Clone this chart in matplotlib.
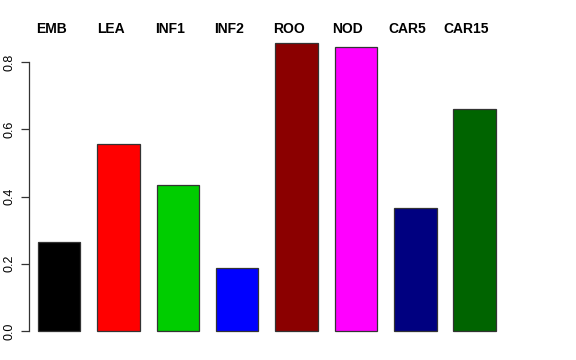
import matplotlib
matplotlib.use('Agg')
import matplotlib.pyplot as plt
import numpy as np

# tissue names and values
tissues = ['EMB', 'LEA', 'INF1', 'INF2', 'ROO', 'NOD', 'CAR5', 'CAR15']
values = [0.265, 0.556, 0.434, 0.187, 0.857, 0.845, 0.366, 0.660]
colors = ['#000000', '#FF0000', '#00CD00', '#0000FF',
          '#8B0000', '#FF00FF', '#000080', '#006400']
yticks = [0.0, 0.2, 0.4, 0.6, 0.8]

W, H = 576, 360
fig = plt.figure(figsize=(W / 100, H / 100), dpi=100)
# axes placed in pixels like the R plot region
left_px, right_px, bot_px, top_px = 29, 533, 331, 62
ax = fig.add_axes([left_px / W, (H - bot_px) / H,
                   (right_px - left_px) / W, (bot_px - top_px) / H])

# R barplot geometry: width 1, space 0.4
x = 0.4 + 1.4 * np.arange(len(tissues)) + 0.5
ax.bar(x, values, width=1.0, color=colors, edgecolor='#333333',
       linewidth=0.9, clip_on=False)

unit = 42.4
ax.set_xlim((left_px - 21) / unit, (right_px - 21) / unit)
ax.set_ylim(0, 0.8)

for xi, name in zip(x, tissues):
    ax.text(xi - 0.19, 0.8 + (62 - 29) / 336.25, name, ha='center',
            va='center', fontsize=10, fontweight='bold',
            family='Liberation Sans', clip_on=False)

for s in ['top', 'right', 'bottom']:
    ax.spines[s].set_visible(False)
ax.spines['left'].set_bounds(0, 0.8)
ax.spines['left'].set_color('#333333')
ax.spines['left'].set_linewidth(0.9)
ax.set_xticks([])
ax.set_yticks(yticks)
ax.set_yticklabels(['0.0', '0.2', '0.4', '0.6', '0.8'], rotation=90,
                   va='center', fontsize=9, family='Liberation Sans')
ax.tick_params(axis='y', length=5.5, width=0.9, color='#333333', pad=4)

fig.savefig('out.png', dpi=100)
